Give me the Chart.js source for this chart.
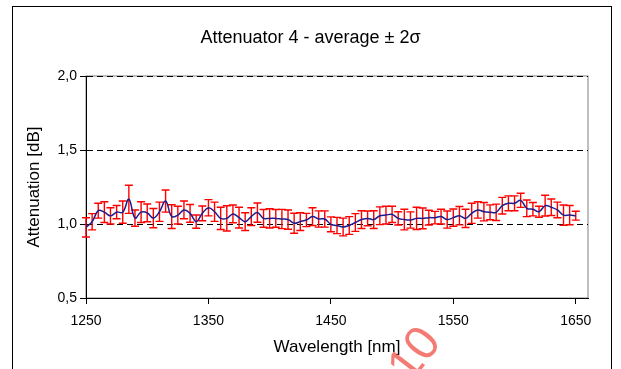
<!DOCTYPE html>
<html>
<head>
<meta charset="utf-8">
<script src="https://cdn.jsdelivr.net/npm/chart.js@4.4.1/dist/chart.umd.min.js"></script>
<style>
  html, body { margin: 0; padding: 0; background: #fff; }
  canvas { display: block; }
</style>
</head>
<body>
<canvas id="myChart" width="621" height="369"></canvas>
<script>
// wavelength (nm) of each measurement
const wavelengths = [
    1250, 1255, 1260, 1265, 1270, 1275, 1280, 1285, 1290, 1295,
    1300, 1305, 1310, 1315, 1320, 1325, 1330, 1335, 1340, 1345,
    1350, 1355, 1360, 1365, 1370, 1375, 1380, 1385, 1390, 1395,
    1400, 1405, 1410, 1415, 1420, 1425, 1430, 1435, 1440, 1445,
    1450, 1455, 1460, 1465, 1470, 1475, 1480, 1485, 1490, 1495,
    1500, 1505, 1510, 1515, 1520, 1525, 1530, 1535, 1540, 1545,
    1550, 1555, 1560, 1565, 1570, 1575, 1580, 1585, 1590, 1595,
    1600, 1605, 1610, 1615, 1620, 1625, 1630, 1635, 1640, 1645,
    1650
];

// average attenuation [dB]
const average = [
    0.977, 1.015, 1.090, 1.080, 1.055, 1.080, 1.080, 1.167, 1.040, 1.080,
    1.075, 1.040, 1.083, 1.155, 1.050, 1.060, 1.095, 1.072, 1.016, 1.072,
    1.110, 1.083, 1.038, 1.038, 1.068, 1.043, 1.016, 1.050, 1.077, 1.038,
    1.038, 1.038, 1.034, 1.030, 1.005, 1.016, 1.027, 1.050, 1.034, 1.034,
    0.998, 0.990, 0.980, 0.990, 1.010, 1.030, 1.038, 1.030, 1.056, 1.060,
    1.065, 1.038, 1.030, 1.027, 1.038, 1.038, 1.043, 1.043, 1.050, 1.030,
    1.043, 1.056, 1.038, 1.072, 1.095, 1.083, 1.079, 1.079, 1.124, 1.140,
    1.140, 1.160, 1.106, 1.100, 1.083, 1.124, 1.113, 1.095, 1.060, 1.060,
    1.056
];

// 2 sigma [dB]
const twoSigma = [
    0.065, 0.055, 0.050, 0.070, 0.055, 0.045, 0.075, 0.095, 0.055, 0.070,
    0.060, 0.065, 0.065, 0.075, 0.080, 0.060, 0.060, 0.060, 0.045, 0.050,
    0.055, 0.065, 0.075, 0.085, 0.060, 0.070, 0.060, 0.060, 0.065, 0.060,
    0.065, 0.060, 0.065, 0.065, 0.068, 0.060, 0.045, 0.060, 0.055, 0.055,
    0.050, 0.055, 0.060, 0.060, 0.060, 0.060, 0.050, 0.060, 0.060, 0.060,
    0.055, 0.045, 0.070, 0.055, 0.075, 0.070, 0.050, 0.042, 0.050, 0.058,
    0.058, 0.062, 0.062, 0.068, 0.055, 0.062, 0.050, 0.055, 0.056, 0.050,
    0.050, 0.048, 0.056, 0.045, 0.037, 0.070, 0.056, 0.053, 0.068, 0.065,
    0.030
];

const xTicks = [1250, 1350, 1450, 1550, 1650];
const yTicks = [0.5, 1.0, 1.5, 2.0];

const points = wavelengths.map((w, i) => ({ x: w, y: average[i] }));

// 프레임, 플롯 테두리, 워터마크
const framePlugin = {
    id: 'frame',
    beforeDraw(chart) {
        const { ctx, chartArea: a } = chart;
        ctx.save();
        ctx.fillStyle = '#fff';
        ctx.fillRect(0, 0, chart.width, chart.height);
        ctx.strokeStyle = '#000';
        ctx.lineWidth = 1;
        ctx.strokeRect(12.5, 6.5, 599, 400);
        ctx.strokeStyle = '#808080';
        ctx.strokeRect(a.left, a.top, a.right - a.left, a.bottom - a.top);
        ctx.restore();
    },
    afterDraw(chart) {
        const ctx = chart.ctx;
        ctx.save();
        ctx.translate(432, 334);
        ctx.rotate(-0.92);
        ctx.font = '48px "Liberation Sans", Arial, sans-serif';
        ctx.textAlign = 'right';
        ctx.textBaseline = 'middle';
        ctx.fillStyle = 'rgba(240, 90, 80, 0.8)';
        ctx.fillText('10', 0, 0);
        ctx.restore();
    }
};

// 오차 막대 (평균 ± 2σ)
const errorBarPlugin = {
    id: 'errorBars',
    beforeDatasetsDraw(chart) {
        const { ctx, scales: { x, y } } = chart;
        ctx.save();
        ctx.strokeStyle = '#ff0000';
        ctx.lineWidth = 1.4;
        wavelengths.forEach((w, i) => {
            const px = x.getPixelForValue(w);
            const top = y.getPixelForValue(average[i] + twoSigma[i]);
            const bot = y.getPixelForValue(average[i] - twoSigma[i]);
            ctx.beginPath();
            ctx.moveTo(px, top); ctx.lineTo(px, bot);
            ctx.moveTo(px - 4, top); ctx.lineTo(px + 4, top);
            ctx.moveTo(px - 4, bot); ctx.lineTo(px + 4, bot);
            ctx.stroke();
        });
        ctx.restore();
    }
};

const font = '"Liberation Sans", Arial, sans-serif';

new Chart(document.getElementById('myChart'), {
    type: 'line',
    data: {
        datasets: [{
            data: points,
            borderColor: '#1c1c8c',
            borderWidth: 1.5,
            pointRadius: 0,
            tension: 0.4,
            fill: false
        }]
    },
    options: {
        responsive: false,
        animation: false,
        devicePixelRatio: 1,
        layout: { padding: 0 },
        plugins: {
            legend: { display: false },
            tooltip: { enabled: false },
            title: {
                display: true,
                text: 'Attenuator 4 - average \u00b1 2\u03c3',
                color: '#000',
                font: { family: font, size: 18, weight: 'normal' },
                padding: { top: 27, bottom: 27.4 }
            }
        },
        scales: {
            x: {
                type: 'linear',
                min: 1250,
                max: 1660,
                afterFit: s => { s.height = 71; },
                afterBuildTicks: s => { s.ticks = xTicks.map(v => ({ value: v })); },
                ticks: {
                    color: '#000',
                    font: { family: font, size: 14 },
                    padding: 9,
                    maxRotation: 0,
                    callback: v => String(v)
                },
                grid: { drawOnChartArea: false, drawTicks: true, tickLength: 6, tickColor: '#000', color: '#000' },
                border: { display: true, color: '#000', width: 1 },
                title: {
                    display: true,
                    text: 'Wavelength [nm]',
                    color: '#000',
                    font: { family: font, size: 17 },
                    padding: { top: 0, bottom: 11 }
                }
            },
            y: {
                min: 0.5,
                max: 2.0,
                afterFit: s => { s.width = 86; },
                afterBuildTicks: s => { s.ticks = yTicks.map(v => ({ value: v })); },
                ticks: {
                    color: '#000',
                    font: { family: font, size: 14 },
                    padding: 3,
                    callback: v => v.toFixed(1).replace('.', ',')
                },
                grid: {
                    color: c => (c.tick && c.tick.value === 0.5) ? 'rgba(0,0,0,0)' : '#000',
                    tickColor: '#000',
                    tickLength: 6,
                    lineWidth: 1
                },
                border: { display: true, color: '#000', width: 1, dash: [6, 4] },
                title: {
                    display: true,
                    text: 'Attenuation [dB]',
                    color: '#000',
                    font: { family: font, size: 17 },
                    padding: { top: 24, bottom: 0 }
                }
            },
            // 오른쪽 여백용 빈 축
            spacer: {
                type: 'linear',
                position: 'right',
                afterFit: s => { s.width = 33; },
                ticks: { display: false },
                grid: { display: false, drawOnChartArea: false },
                border: { display: false }
            }
        }
    },
    plugins: [framePlugin, errorBarPlugin]
});
</script>
</body>
</html>
